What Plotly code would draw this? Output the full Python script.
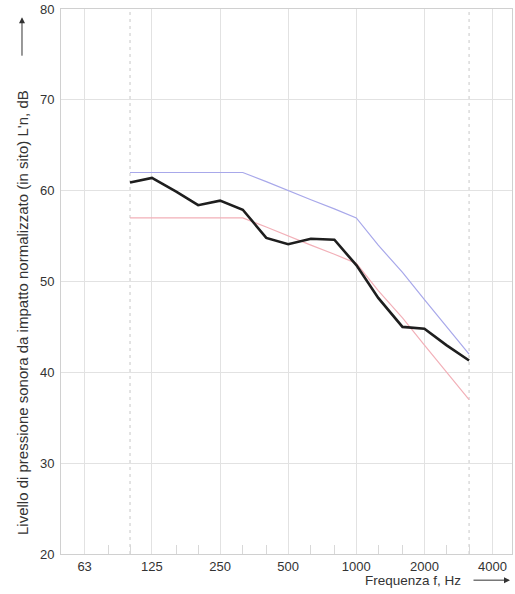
import plotly.graph_objects as go

# Third-octave band centre frequencies (Hz)
freqs = [100, 125, 160, 200, 250, 315, 400, 500, 630, 800, 1000, 1250, 1600, 2000, 2500, 3150]
# Measured normalised impact sound pressure level L'n (dB)
measured = [60.9, 61.4, 59.9, 58.4, 58.9, 57.9, 54.8, 54.1, 54.7, 54.6, 51.8, 48.2, 45.0, 44.8, 43.0, 41.3]
# Shifted reference curve (blue)
reference = [62, 62, 62, 62, 62, 62, 61, 60, 59, 58, 57, 54, 51, 48, 45, 42]
# Reference curve lowered (red)
reference_low = [57, 57, 57, 57, 57, 57, 56, 55, 54, 53, 52, 49, 46, 43, 40, 37]

x_tickvals = [63, 125, 250, 500, 1000, 2000, 4000]
x_ticktext = ["63", "125", "250", "500", "1000", "2000", "4000"]
x_minor = [80, 100, 160, 200, 315, 400, 630, 800, 1250, 1600, 2500, 3150]
y_tickvals = [20, 30, 40, 50, 60, 70, 80]
band_limits = [100, 3150]
y_limits = [20, 80]

FONT = "Liberation Sans, Arial, sans-serif"

fig = go.Figure()

# dashed band limit lines
for f in band_limits:
    fig.add_trace(go.Scatter(x=[f, f], y=y_limits, mode="lines",
                             line=dict(color="#c8c8c8", width=1, dash="3px,4px"),
                             showlegend=False, hoverinfo="skip"))

fig.add_trace(go.Scatter(x=freqs, y=reference_low, mode="lines",
                         line=dict(color="#f2b0b8", width=1.2), showlegend=False))
fig.add_trace(go.Scatter(x=freqs, y=reference, mode="lines",
                         line=dict(color="#a8a8ea", width=1.2), showlegend=False))
fig.add_trace(go.Scatter(x=freqs, y=measured, mode="lines",
                         line=dict(color="#1e1e1e", width=2.6), showlegend=False))

fig.update_layout(
    width=515, height=594,
    margin=dict(l=61, r=3, t=9, b=40),
    paper_bgcolor="white", plot_bgcolor="white",
    font=dict(family=FONT, size=13, color="#333333"),
    xaxis=dict(type="log", range=[1.695, 3.688], automargin=False,
               tickvals=x_tickvals, ticktext=x_ticktext,
               showgrid=True, gridcolor="#e2e2e2", gridwidth=1,
               showline=True, linecolor="#d0d0d0", mirror=True,
               ticks="", zeroline=False,
               minor=dict(tickvals=x_minor, ticks="inside", ticklen=9,
                          tickcolor="#d8d8d8", showgrid=False),
               tickfont=dict(size=13, color="#333333")),
    yaxis=dict(range=[20, 80], tickvals=y_tickvals, automargin=False,
               showgrid=True, gridcolor="#e2e2e2", gridwidth=1,
               showline=True, linecolor="#d0d0d0", mirror=True,
               ticks="", zeroline=False, ticklabelstandoff=3,
               tickfont=dict(size=13, color="#333333")),
)

# axis titles with arrows
fig.add_annotation(text="Livello di pressione sonora da impatto normalizzato (in sito) L'n, dB",
                   xref="paper", yref="paper", x=-0.0865, y=0.444,
                   textangle=-90, showarrow=False, xanchor="center", yanchor="middle",
                   font=dict(size=15, color="#333333"))
fig.add_annotation(text="", xref="paper", yref="paper", x=-0.0865, y=0.985,
                   ax=0, ay=40, showarrow=True, arrowhead=2, arrowsize=1.2,
                   arrowwidth=1, arrowcolor="#333333")
fig.add_annotation(text="Frequenza f, Hz",
                   xref="paper", yref="paper", x=(463 - 61) / 451, y=-0.048,
                   showarrow=False, xanchor="right", yanchor="middle",
                   font=dict(size=13.5, color="#333333"))
fig.add_annotation(text="", xref="paper", yref="paper", x=(510 - 61) / 451, y=-0.048,
                   ax=-38, ay=0, showarrow=True, arrowhead=2, arrowsize=1.2,
                   arrowwidth=1, arrowcolor="#333333")

fig.write_html("out.html", config={"displayModeBar": False},
               post_script="document.body.style.margin='0';document.body.style.padding='0';")
